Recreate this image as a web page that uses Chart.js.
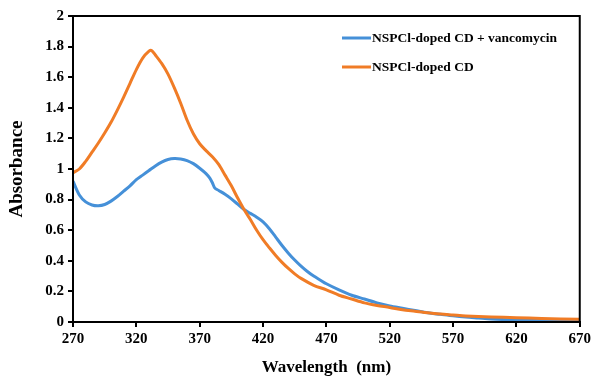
<!doctype html>
<html lang="en">
  <head>
    <meta charset="utf-8">
    <title>Absorbance spectra</title>
    <script src="https://cdn.jsdelivr.net/npm/chart.js"></script>
    <style>
        html, body { margin: 0; padding: 0; background: #fff; overflow: hidden; }
        #spectra { display: block; }
    </style>
  </head>
  <body>
    <canvas id="spectra" width="594" height="377"></canvas>

    <script>
        // wavelengths (nm) and absorbance
        const VancWavelength = [270, 275, 280, 285, 290, 295, 300, 305, 310, 315, 320, 325, 330, 335, 340, 345, 350, 355, 360, 365, 370, 375, 378, 380, 382, 385, 390, 395, 400, 405, 410, 415, 420, 425, 430, 435, 440, 445, 450, 455, 460, 465, 470, 480, 490, 500, 510, 520, 530, 540, 550, 560, 570, 580, 590, 600, 620, 640, 670]
        const VancAbsorbance = [0.92, 0.83, 0.785, 0.765, 0.76, 0.768, 0.79, 0.82, 0.855, 0.89, 0.93, 0.96, 0.99, 1.02, 1.045, 1.062, 1.068, 1.065, 1.055, 1.035, 1.005, 0.97, 0.94, 0.91, 0.875, 0.86, 0.835, 0.805, 0.77, 0.735, 0.71, 0.685, 0.655, 0.61, 0.555, 0.5, 0.45, 0.405, 0.365, 0.33, 0.3, 0.275, 0.25, 0.21, 0.175, 0.15, 0.125, 0.105, 0.09, 0.075, 0.06, 0.05, 0.04, 0.032, 0.026, 0.02, 0.014, 0.01, 0.006]

        const CdWavelength = [270, 275, 280, 285, 290, 295, 300, 305, 310, 315, 320, 325, 330, 332, 335, 340, 345, 350, 355, 360, 365, 370, 375, 380, 385, 390, 395, 400, 405, 410, 415, 420, 425, 430, 435, 440, 445, 450, 460, 470, 480, 490, 500, 510, 520, 530, 540, 550, 560, 570, 580, 600, 620, 640, 670]
        const CdAbsorbance = [0.975, 1.0, 1.05, 1.11, 1.17, 1.235, 1.305, 1.385, 1.47, 1.56, 1.65, 1.725, 1.77, 1.775, 1.745, 1.69, 1.62, 1.53, 1.43, 1.32, 1.23, 1.165, 1.12, 1.08, 1.03, 0.96, 0.89, 0.81, 0.735, 0.67, 0.6, 0.538, 0.485, 0.435, 0.39, 0.35, 0.315, 0.285, 0.24, 0.21, 0.175, 0.15, 0.125, 0.108, 0.095, 0.08, 0.07, 0.06, 0.052, 0.046, 0.04, 0.033, 0.028, 0.023, 0.018]

        const XTicks = [270, 320, 370, 420, 470, 520, 570, 620, 670]
        const SeriesNames = ['NSPCl-doped CD + vancomycin', 'NSPCl-doped CD']
        const SeriesColors = ['#4590D8', '#F07C26']

        const Serif = "'Liberation Serif', 'Times New Roman', serif"

        function ToPoints(xs, ys) {
            return xs.map((x, i) => ({ x: x, y: ys[i] }))
        }

        // black frame round the plot area
        const FramePlugin = {
            id: 'frame',
            afterDraw(chart) {
                const { ctx, chartArea } = chart
                ctx.save()
                ctx.strokeStyle = '#000'
                ctx.lineWidth = 2
                ctx.strokeRect(chartArea.left, chartArea.top, chartArea.right - chartArea.left, chartArea.bottom - chartArea.top)
                ctx.restore()
            }
        }

        // legend inside the plot, top right
        const LegendPlugin = {
            id: 'insideLegend',
            afterDraw(chart) {
                const { ctx } = chart
                const rows = [38, 67]
                ctx.save()
                chart.data.datasets.forEach((ds, i) => {
                    ctx.strokeStyle = ds.borderColor
                    ctx.lineWidth = 3
                    ctx.beginPath()
                    ctx.moveTo(342, rows[i])
                    ctx.lineTo(371, rows[i])
                    ctx.stroke()
                    ctx.fillStyle = '#000'
                    ctx.font = 'bold 13.5px ' + Serif
                    ctx.textBaseline = 'middle'
                    ctx.textAlign = 'left'
                    ctx.fillText(ds.label, 372, rows[i] + 1)
                })
                ctx.restore()
            }
        }

        new Chart(document.getElementById('spectra'), {
            type: 'line',
            data: {
                datasets: [
                    {
                        label: SeriesNames[0],
                        data: ToPoints(VancWavelength, VancAbsorbance),
                        borderColor: SeriesColors[0],
                        borderWidth: 3,
                        pointRadius: 0,
                        tension: 0.3,
                        order: 2
                    },
                    {
                        label: SeriesNames[1],
                        data: ToPoints(CdWavelength, CdAbsorbance),
                        borderColor: SeriesColors[1],
                        borderWidth: 3,
                        pointRadius: 0,
                        tension: 0.3,
                        order: 1
                    }
                ]
            },
            options: {
                responsive: false,
                animation: false,
                devicePixelRatio: 1,
                layout: { padding: { top: 16, right: 11, left: 0, bottom: 0 } },
                plugins: {
                    legend: { display: false },
                    tooltip: { enabled: false }
                },
                scales: {
                    x: {
                        type: 'linear',
                        min: 270,
                        max: 670,
                        afterBuildTicks(scale) {
                            scale.ticks = XTicks.map((v) => ({ value: v }))
                        },
                        afterFit(scale) { scale.height = 55 },
                        grid: {
                            drawOnChartArea: false,
                            color: '#000',
                            lineWidth: 2,
                            tickLength: 5,
                            tickWidth: 2
                        },
                        border: { color: '#000', width: 2 },
                        ticks: {
                            color: '#000',
                            padding: 3,
                            maxRotation: 0,
                            autoSkip: false,
                            font: { family: Serif, size: 15, weight: 'bold' }
                        },
                        title: {
                            display: true,
                            text: 'Wavelength  (nm)',
                            color: '#000',
                            padding: { top: 0, bottom: 1 },
                            font: { family: Serif, size: 17, weight: 'bold', lineHeight: 1 }
                        }
                    },
                    y: {
                        min: 0,
                        max: 2,
                        afterFit(scale) { scale.width = 73 },
                        grid: {
                            drawOnChartArea: false,
                            color: '#000',
                            lineWidth: 2,
                            tickLength: 5,
                            tickWidth: 2
                        },
                        border: { color: '#000', width: 2 },
                        ticks: {
                            stepSize: 0.2,
                            autoSkip: false,
                            color: '#000',
                            padding: 4,
                            font: { family: Serif, size: 15, weight: 'bold' },
                            callback: (v) => Number(v.toFixed(1)).toString()
                        },
                        title: {
                            display: true,
                            text: 'Absorbance',
                            color: '#000',
                            padding: { top: 8, bottom: 0 },
                            font: { family: Serif, size: 19, weight: 'bold', lineHeight: 1 }
                        }
                    }
                }
            },
            plugins: [FramePlugin, LegendPlugin]
        })
    </script>
  </body>
</html>
